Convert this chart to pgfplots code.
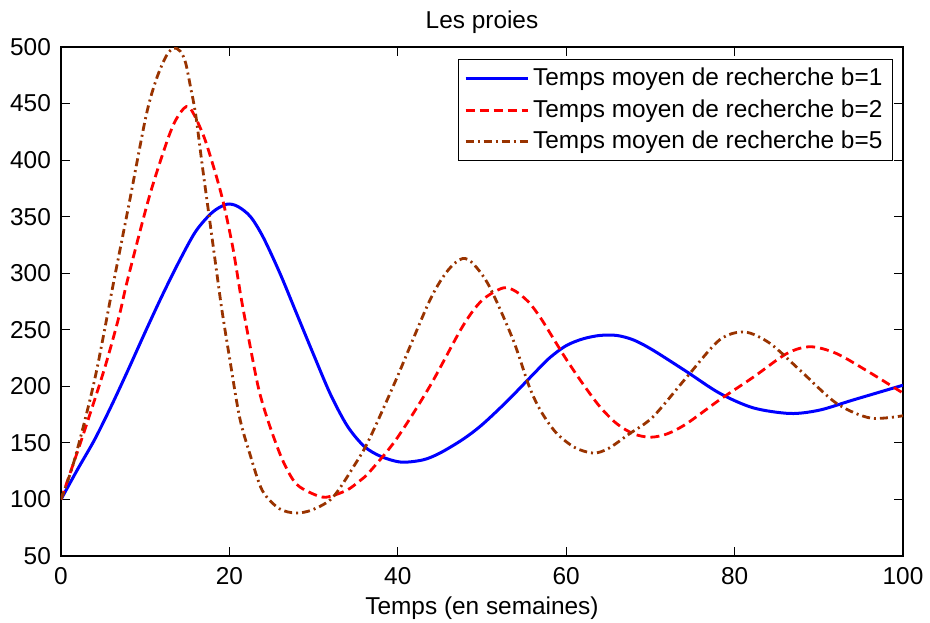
\documentclass[border=0pt]{standalone}
\usepackage{fontspec}
\setmainfont{Liberation Sans}
\usepackage{pgfplots}
\pgfplotsset{compat=1.18}
\definecolor{brn}{RGB}{153,51,0}
\begin{document}
\fontsize{12.2}{14.6}\selectfont
\begin{tikzpicture}
\useasboundingbox (-30.5pt,-33pt) rectangle (434.5pt,278pt);
\begin{axis}[
  at={(0pt,0pt)}, anchor=south west,
  scale only axis, width=421pt, height=254.5pt,
  xmin=0, xmax=100, ymin=50, ymax=500,
  xtick={0,20,...,100}, ytick={50,100,...,500},
  tick align=inside, major tick length=4.5pt,
  every tick/.style={black, line width=0.5pt},
  axis line style={line width=0.8pt},
  /pgf/number format/assume math mode=true,
  /pgf/number format/1000 sep={},
  xticklabel style={yshift=-1.3pt},
  yticklabel style={xshift=-0.8pt},
  title={Les proies},
  title style={at={(0.5,1)}, anchor=south, yshift=-3.5pt},
  xlabel={Temps (en semaines)},
  xlabel style={at={(axis description cs:0.5,0)}, anchor=base, yshift=-29pt},
  legend cell align=left,
  legend style={at={(0.988,0.976)}, anchor=north east, draw=black, line width=0.5pt, row sep=1.2pt, font=\fontsize{12.2}{14.6}\selectfont},
  legend image code/.code={\draw[#1] (2pt,0pt) -- (33pt,0pt);},
]
\addplot[blue, line width=1.5pt, smooth, tension=0.5] coordinates {
(0,100) (2,127) (4,153) (6,183) (8,215) (10,248) (12,280) (14,310) (16,337) (18,354)
(19.7,361) (21,359) (22.5,350) (24,332) (26,300) (28,264) (30,228) (32,193) (34,165)
(36,147) (38,138) (40.4,133) (43,135) (45,141) (47.7,153) (50,166) (53,187) (56,210)
(58,225) (60,236) (62,242) (64,245) (66,245) (68,241)
(70.3,232) (74.3,213) (78.2,194) (82.2,181) (86.6,176) (90.1,179) (94.1,188) (100,201)
};
\addlegendentry{Temps moyen de recherche b=1}
\addplot[red, line width=1.4pt, smooth, tension=0.5, dash pattern=on 4.5pt off 2.5pt] coordinates {
(0,100) (2.4,152) (5.1,214) (6.9,262) (7.9,294) (10.5,368) (12.8,421) (14,440) (15.2,447)
(16.8,424) (18.0,397) (19.2,365) (20.4,323) (21.4,278) (22.4,238) (23.5,197) (24.7,167)
(26.3,135) (27.9,114) (29.9,105) (31.5,102) (33.9,108) (35.4,116) (36.6,124) (39.8,153)
(43.8,200) (47.7,253) (50,276) (52.5,287) (54,284) (55.6,274) (57,260) (58.5,242)
(60,224) (62,202) (64,182) (66,167) (68,158) (70,155) (72,158) (74.3,167) (78.2,188)
(82.2,208) (86.2,229) (89,235) (92.1,229) (96.1,212) (100,194)
};
\addlegendentry{Temps moyen de recherche b=2}
\addplot[brn, line width=1.4pt, smooth, tension=0.5, dash pattern=on 4pt off 2pt on 1pt off 2pt] coordinates {
(0,100) (1.6,135) (4.0,206) (6.3,294) (8.1,362) (10.1,439) (11.3,471) (12.5,492) (13.4,499)
(14.2,496) (14.8,486) (15.4,464) (16.0,440) (16.8,394) (17.6,350) (18.4,306) (19.1,268)
(20.0,226) (21.2,173) (22.4,141) (23.9,108) (25.9,92) (27.9,88) (29.9,91) (32.3,102)
(35.0,132) (36.6,153) (39.8,206) (43.8,276) (46,303) (47.7,313) (49,308) (50.9,288)
(53.7,241) (55.6,200) (57,178) (58.8,159) (61,146) (63.2,141) (65,145) (67.5,158)
(70.3,173) (74.3,208) (78.2,241) (81.2,248) (84.2,238) (87.8,214) (92.1,185) (96.1,172)
(100,174)
};
\addlegendentry{Temps moyen de recherche b=5}
\end{axis}
\end{tikzpicture}
\end{document}
